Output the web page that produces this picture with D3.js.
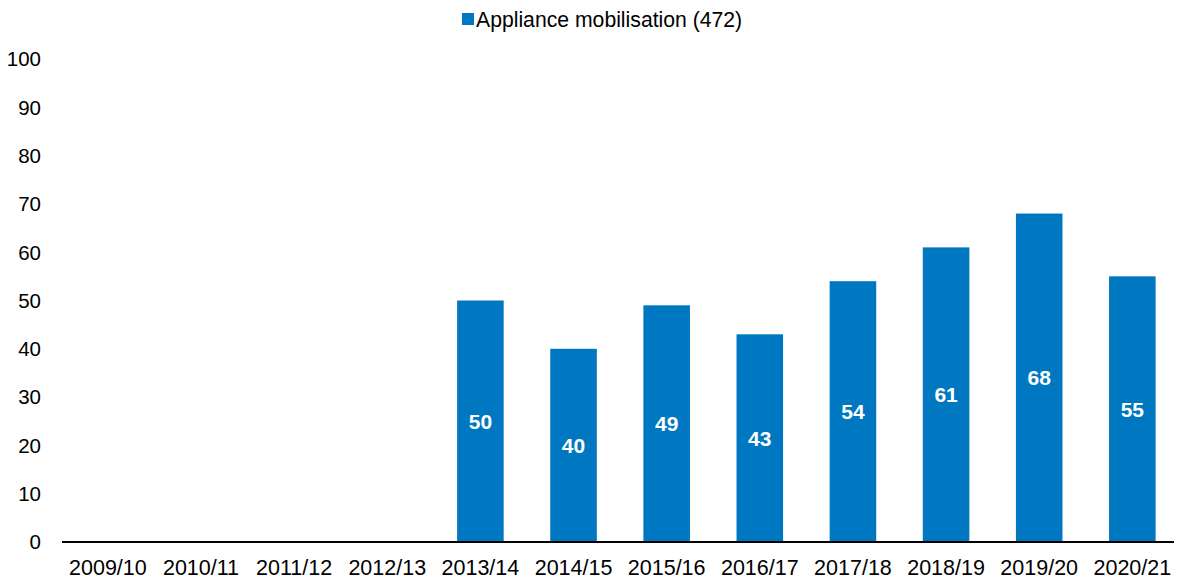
<!DOCTYPE html>
<html>
<head>
<meta charset="utf-8">
<script src="https://cdn.jsdelivr.net/npm/d3@7"></script>
<style>
  html, body { margin: 0; padding: 0; background: #fff; }
  svg { display: block; font-family: "Liberation Sans", Arial, sans-serif; }
</style>
</head>
<body>
<svg id="chart" width="1178" height="578"></svg>
<script>
const categories = ["2009/10","2010/11","2011/12","2012/13","2013/14","2014/15","2015/16","2016/17","2017/18","2018/19","2019/20","2020/21"];
const values = [null, null, null, null, 50, 40, 49, 43, 54, 61, 68, 55];
const yTicks = [0,10,20,30,40,50,60,70,80,90,100];
const seriesName = "Appliance mobilisation (472)";

const svg = d3.select("#chart");
const color = "#0077C1";

const x = d3.scaleBand().domain(categories).range([61.3, 1178.9]).paddingInner(0.5).paddingOuter(0.25);
const y = d3.scaleLinear().domain([0, 100]).range([542, 59]);

// y tick labels
svg.append("g").selectAll("text").data(yTicks).join("text")
  .attr("x", 41).attr("y", d => y(d)).attr("dy", "0.36em")
  .attr("text-anchor", "end").attr("font-size", 20.5).attr("fill", "#000")
  .text(d => d);

// bars
const data = categories.map((c, i) => ({c, v: values[i]})).filter(d => d.v != null);
svg.append("g").selectAll("rect").data(data).join("rect")
  .attr("x", d => x(d.c)).attr("width", x.bandwidth())
  .attr("y", d => y(d.v)).attr("height", d => y(0) - y(d.v))
  .attr("fill", color);

// value labels
svg.append("g").selectAll("text").data(data).join("text")
  .attr("x", d => x(d.c) + x.bandwidth() / 2)
  .attr("y", d => (y(d.v) + y(0)) / 2).attr("dy", "0.36em")
  .attr("text-anchor", "middle").attr("font-size", 21).attr("font-weight", "bold")
  .attr("fill", "#fff").text(d => d.v);

// x axis
const xAxis = d3.axisBottom(x).tickSize(0).tickPadding(0);
const gx = svg.append("g").attr("transform", `translate(0,${y(0)})`).call(xAxis);
gx.select(".domain").remove();
gx.selectAll("text").attr("font-size", 21.5).attr("fill", "#000")
  .attr("font-family", "Liberation Sans, Arial, sans-serif").attr("y", 0).attr("dy", 32.5);
svg.append("line").attr("x1", 62).attr("x2", 1174).attr("y1", y(0)).attr("y2", y(0))
  .attr("stroke", "#000").attr("stroke-width", 2.2);

// legend
const lg = svg.append("g");
lg.append("rect").attr("x", 462).attr("y", 13).attr("width", 12).attr("height", 12).attr("fill", color);
lg.append("text").attr("x", 476).attr("y", 19).attr("dy", "0.36em")
  .attr("font-size", 21.2).attr("fill", "#000").text(seriesName);
</script>
</body>
</html>
